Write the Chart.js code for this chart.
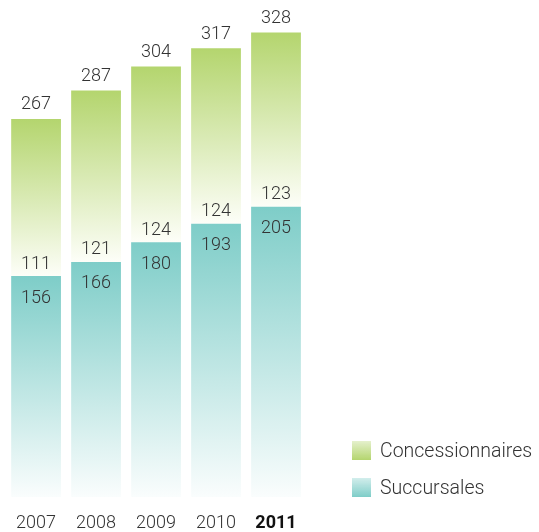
<!DOCTYPE html>
<html>
<head>
<meta charset="utf-8">
<script src="https://cdn.jsdelivr.net/npm/chart.js@4"></script>
<style>
  html, body { margin: 0; padding: 0; background: #fff; }
  #wrap { width: 539px; height: 532px; position: relative; }
</style>
</head>
<body>
<div id="wrap"><canvas id="c" width="539" height="532"></canvas></div>
<script>
const years = ['2007', '2008', '2009', '2010', '2011'];
const succursales = [156, 166, 180, 193, 205];
const concessionnaires = [111, 121, 124, 124, 123];
const seriesNames = ['Succursales', 'Concessionnaires'];

const GREEN = [180, 213, 110];
const TEAL = [126, 205, 200];
const FONT = 'Roboto, "Liberation Sans", sans-serif';
const TEXT = '#333333';

function rgb(c, a) { return 'rgba(' + c[0] + ',' + c[1] + ',' + c[2] + ',' + (a === undefined ? 1 : a) + ')'; }

function barGradient(ctx) {
  const chart = ctx.chart;
  const area = chart.chartArea;
  if (!area || ctx.type !== 'data') return rgb(ctx.datasetIndex === 0 ? TEAL : GREEN);
  const y = chart.scales.y;
  const i = ctx.dataIndex;
  let top, bottom, col, end;
  if (ctx.datasetIndex === 0) {
    top = y.getPixelForValue(succursales[i]);
    bottom = y.getPixelForValue(0);
    col = TEAL; end = 'rgb(250,253,253)';
  } else {
    top = y.getPixelForValue(succursales[i] + concessionnaires[i]);
    bottom = y.getPixelForValue(succursales[i]);
    col = GREEN; end = 'rgb(253,254,248)';
  }
  const g = chart.ctx.createLinearGradient(0, top, 0, bottom);
  g.addColorStop(0, rgb(col));
  g.addColorStop(1, end);
  return g;
}

const labelsPlugin = {
  id: 'valueLabels',
  afterDatasetsDraw(chart) {
    const c = chart.ctx;
    const y = chart.scales.y;
    const x = chart.scales.x;
    c.save();
    c.font = '300 18px ' + FONT;
    c.fillStyle = TEXT;
    c.textAlign = 'center';
    c.textBaseline = 'middle';
    years.forEach((yr, i) => {
      const cx = x.getPixelForValue(i);
      const b = y.getPixelForValue(succursales[i]);
      const t = y.getPixelForValue(succursales[i] + concessionnaires[i]);
      c.fillText(String(succursales[i]), cx, b + 22);
      c.fillText(String(concessionnaires[i]), cx, b - 12);
      c.fillText(String(succursales[i] + concessionnaires[i]), cx, t - 14);
    });
    c.restore();
  }
};

const legendPlugin = {
  id: 'customLegend',
  afterDraw(chart) {
    const c = chart.ctx;
    c.save();
    const items = [
      { name: seriesNames[1], col: GREEN, y: 441 },
      { name: seriesNames[0], col: TEAL, y: 478 }
    ];
    items.forEach(it => {
      const g = c.createLinearGradient(0, it.y, 0, it.y + 19);
      g.addColorStop(0, 'rgba(' + it.col.join(',') + ',0.35)');
      g.addColorStop(1, rgb(it.col));
      c.fillStyle = g;
      c.fillRect(352, it.y, 19, 19);
      c.font = '300 19.5px ' + FONT;
      c.fillStyle = TEXT;
      c.textAlign = 'left';
      c.textBaseline = 'middle';
      c.fillText(it.name, 380, it.y + 11);
    });
    c.restore();
  }
};

new Chart(document.getElementById('c'), {
  type: 'bar',
  data: {
    labels: years,
    datasets: [
      { label: seriesNames[0], data: succursales, backgroundColor: barGradient, borderWidth: 0 },
      { label: seriesNames[1], data: concessionnaires, backgroundColor: barGradient, borderWidth: 0 }
    ]
  },
  options: {
    responsive: false,
    animation: false,
    devicePixelRatio: 1,
    layout: { padding: { left: 1, right: 233, top: 0, bottom: 0 } },
    datasets: { bar: { categoryPercentage: 1.0, barPercentage: 0.83 } },
    plugins: { legend: { display: false }, tooltip: { enabled: false } },
    scales: {
      x: {
        stacked: true,
        grid: { display: false, drawTicks: false },
        border: { display: false },
        afterFit(scale) { scale.height = 35; },
        ticks: {
          padding: 16,
          color: (ctx) => ctx.index === 4 ? '#111111' : TEXT,
          font: (ctx) => ({ family: FONT, size: 18, weight: ctx.index === 4 ? 'bold' : '300' })
        }
      },
      y: {
        stacked: true,
        display: false,
        min: 0,
        max: 351
      }
    }
  },
  plugins: [labelsPlugin, legendPlugin]
});
</script>
</body>
</html>
